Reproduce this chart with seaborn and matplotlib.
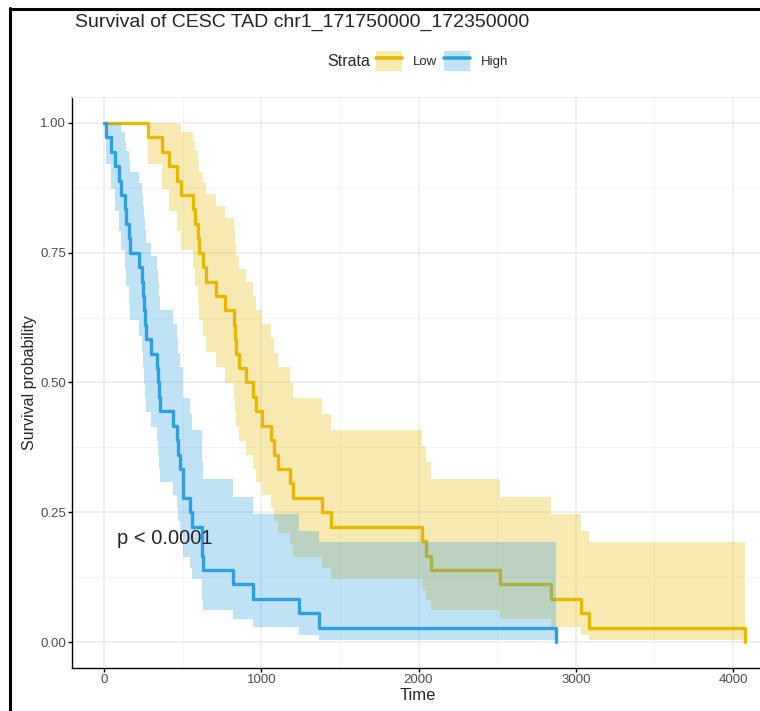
import numpy as np
import pandas as pd
import matplotlib
matplotlib.use("Agg")
import matplotlib.pyplot as plt
import seaborn as sns
from matplotlib.patches import Patch
from matplotlib.lines import Line2D
from matplotlib.ticker import MultipleLocator

# event times (days) read off the KM steps, 36 patients per group, no censoring visible
low_times = [278, 367, 410, 461, 488, 565, 580, 598, 604, 628, 648, 711, 767, 826,
             830, 839, 860, 902, 945, 966, 1006, 1062, 1078, 1104, 1183, 1200, 1386,
             1444, 2023, 2048, 2080, 2516, 2845, 3036, 3085, 4076]
high_times = [10, 43, 68, 96, 105, 132, 140, 157, 166, 221, 244, 249, 253, 258, 265,
              297, 338, 342, 347, 358, 441, 462, 470, 480, 499, 505, 546, 560, 620,
              625, 630, 817, 949, 1242, 1369, 2877]
strata = ["Low", "High"]
colors = {"Low": "#E7B800", "High": "#2E9FDF"}
x_ticks = [0, 1000, 2000, 3000, 4000]
y_ticks = [0.00, 0.25, 0.50, 0.75, 1.00]
pval_text = "p < 0.0001"
title = "Survival of CESC TAD chr1_171750000_172350000"


def km_table(times, name):
    # Kaplan-Meier with Greenwood variance and log-type CI (survfit default)
    t = np.sort(np.asarray(times, dtype=float))
    n = len(t)
    at_risk = n - np.arange(n)
    surv = (at_risk - 1) / n
    with np.errstate(divide="ignore"):
        gw = np.cumsum(1.0 / (at_risk * (at_risk - 1.0)))
    se = np.sqrt(gw)
    lower = surv * np.exp(-1.96 * se)
    upper = np.minimum(1.0, surv * np.exp(1.96 * se))
    # last step hits zero -> keep previous band so ribbon reaches the end
    lower[-1], upper[-1] = lower[-2], upper[-2]
    return pd.DataFrame({
        "time": np.r_[0.0, t],
        "surv": np.r_[1.0, surv],
        "lower": np.r_[1.0, lower],
        "upper": np.r_[1.0, upper],
        "Strata": name,
    })


df = pd.concat([km_table(low_times, "Low"), km_table(high_times, "High")], ignore_index=True)

sns.set_style("white")
plt.rcParams["font.family"] = ["Liberation Sans", "DejaVu Sans"]

W, H = 760, 711
fig = plt.figure(figsize=(W / 100, H / 100), dpi=100)
ax = fig.add_axes([72 / W, 43 / H, 705 / W, 571 / H])

sns.lineplot(data=df, x="time", y="surv", hue="Strata", hue_order=strata,
             palette=colors, drawstyle="steps-post", estimator=None, sort=True,
             lw=2.4, legend=False, ax=ax, zorder=2)
for name in strata:
    d = df[df["Strata"] == name]
    ax.fill_between(d["time"], d["lower"], d["upper"], step="post",
                    color=colors[name], alpha=0.3, lw=0, zorder=3)

ax.text(82, 0.2, pval_text, fontsize=14.5, ha="left", va="center", zorder=4)

ax.set_xlim(-204, 4280)
ax.set_ylim(-0.05, 1.05)
ax.set_xticks(x_ticks)
ax.set_xticklabels([str(v) for v in x_ticks])
ax.set_yticks(y_ticks)
ax.set_yticklabels([f"{v:.2f}" for v in y_ticks])
ax.xaxis.set_minor_locator(MultipleLocator(500))
ax.yaxis.set_minor_locator(MultipleLocator(0.125))
ax.grid(which="major", color="#EBEBEB", lw=1.1, zorder=0)
ax.grid(which="minor", color="#F2F2F2", lw=0.6, zorder=0)
ax.set_axisbelow(True)
ax.tick_params(which="major", length=3.0, width=1.0, color="black",
               labelsize=9.5, labelcolor="#4D4D4D", pad=1.2,
               bottom=True, left=True)
ax.tick_params(which="minor", length=0)
for s in ["top", "right"]:
    ax.spines[s].set_color("#EBEBEB")
for s in ["left", "bottom"]:
    ax.spines[s].set_color("black")
    ax.spines[s].set_linewidth(1.0)

ax.set_xlabel("Time", fontsize=12)
ax.set_ylabel("Survival probability", fontsize=11.5)
ax.xaxis.set_label_coords((418 - 72) / 705, -(696 - 668) / 571, transform=ax.transAxes)
ax.yaxis.set_label_coords(-(72 - 30) / 705, 0.5, transform=ax.transAxes)
ax.xaxis.label.set_va("center")
ax.yaxis.label.set_va("center")

fig.text(75 / W, 1 - 22 / H, title, fontsize=14, va="center", ha="left")
fig.text(327 / W, 1 - 61 / H, "Strata", fontsize=11.5, va="center", ha="left")
handles = [(Patch(facecolor=colors[n], alpha=0.3, lw=0),
            Line2D([], [], color=colors[n], lw=2.6)) for n in strata]
fig.legend(handles, strata, loc="center left", bbox_to_anchor=(376 / W, 1 - 61 / H),
           ncol=2, frameon=False, fontsize=9.5, handlelength=2.0, handleheight=2.0,
           handletextpad=0.8, columnspacing=0.5, borderpad=0, borderaxespad=0)

# screenshot frame
fig.add_artist(Line2D([9.5 / W, 9.5 / W], [0, 1 - 8 / H], transform=fig.transFigure,
                      color="black", lw=2.2))
fig.add_artist(Line2D([9.5 / W, 1], [1 - 8.5 / H, 1 - 8.5 / H], transform=fig.transFigure,
                      color="black", lw=2.2))

fig.savefig("out.png", dpi=100)
